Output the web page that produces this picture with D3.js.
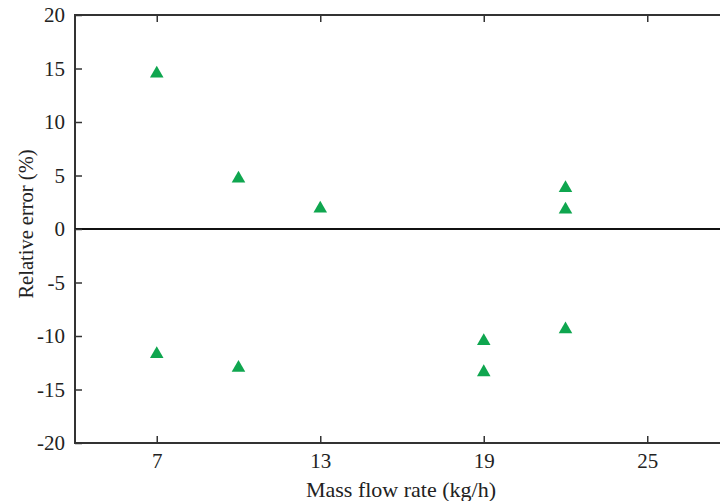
<!DOCTYPE html>
<html><head><meta charset="utf-8">
<script src="https://cdn.jsdelivr.net/npm/d3@7"></script>
<style>body{margin:0;background:#fff;}svg{display:block;}</style>
</head><body>
<svg id="c" width="720" height="501"></svg>
<script>
const massFlow = [7, 10, 13, 22, 22, 7, 10, 19, 19, 22];
const relError = [14.7, 4.9, 2.1, 4.0, 2.0, -11.5, -12.8, -10.3, -13.2, -9.2];
const xTicks = [7, 13, 19, 25];
const yTicks = [-20, -15, -10, -5, 0, 5, 10, 15, 20];
const xLabel = "Mass flow rate (kg/h)";
const yLabel = "Relative error (%)";

(function () {
const svg = d3.select("#c");
const mLeft = 75, mTop = 15, mBottom = 443;
const x = d3.scaleLinear().domain([4, 28]).range([mLeft, mLeft + 24 * 27.25]);
const y = d3.scaleLinear().domain([-20, 20]).range([mBottom, mTop]);
const font = "'Liberation Serif', 'Times New Roman', serif";
const axisColor = "#333";
const fmt = d => String(d);

// frame
const frame = svg.append("g").attr("stroke", axisColor).attr("stroke-width", 2).attr("fill", "none");
frame.append("line").attr("x1", mLeft).attr("x2", 730).attr("y1", y(20)).attr("y2", y(20));
frame.append("line").attr("x1", mLeft).attr("x2", 730).attr("y1", y(-20)).attr("y2", y(-20));
frame.append("line").attr("x1", mLeft).attr("x2", mLeft).attr("y1", y(20) - 1).attr("y2", y(-20) + 1);
frame.append("line").attr("x1", mLeft).attr("x2", 730).attr("y1", y(0)).attr("y2", y(0)).attr("stroke", "#111");

// axes with inward ticks
const xAxisB = d3.axisBottom(x).tickValues(xTicks).tickSize(-7).tickPadding(10).tickFormat(fmt);
const gxb = svg.append("g").attr("transform", `translate(0,${mBottom})`).call(xAxisB);
const xAxisT = d3.axisTop(x).tickValues(xTicks).tickSize(-7).tickFormat("");
const gxt = svg.append("g").attr("transform", `translate(0,${mTop})`).call(xAxisT);
const yAxis = d3.axisLeft(y).tickValues(yTicks).tickSize(-7).tickPadding(10).tickFormat(fmt);
const gy = svg.append("g").attr("transform", `translate(${mLeft},0)`).call(yAxis);
[gxb, gxt, gy].forEach(g => {
  g.select(".domain").remove();
  g.selectAll(".tick line").attr("stroke", axisColor).attr("stroke-width", 1.5);
  g.selectAll("text").attr("font-family", font).attr("font-size", 21).attr("fill", "#222");
});

// labels
svg.append("text").attr("x", 401).attr("y", 497).attr("text-anchor", "middle")
  .attr("font-family", font).attr("font-size", 22).attr("fill", "#222").text(xLabel);
svg.append("text").attr("transform", `translate(33,224) rotate(-90)`).attr("text-anchor", "middle")
  .attr("font-family", font).attr("font-size", 20.5).attr("fill", "#222").text(yLabel);

// points (shifted so the triangle's box centre sits on the value)
const triSize = 80;
const triH = Math.sqrt(triSize * 4 / Math.sqrt(3)) * Math.sqrt(3) / 2;
const tri = d3.symbol().type(d3.symbolTriangle).size(triSize);
svg.append("g").selectAll("path").data(massFlow.map((m, i) => [m, relError[i]])).join("path")
  .attr("d", tri).attr("transform", d => `translate(${x(d[0])},${y(d[1]) + triH / 6})`)
  .attr("fill", "#0fa64f");
})();
</script>
</body></html>
